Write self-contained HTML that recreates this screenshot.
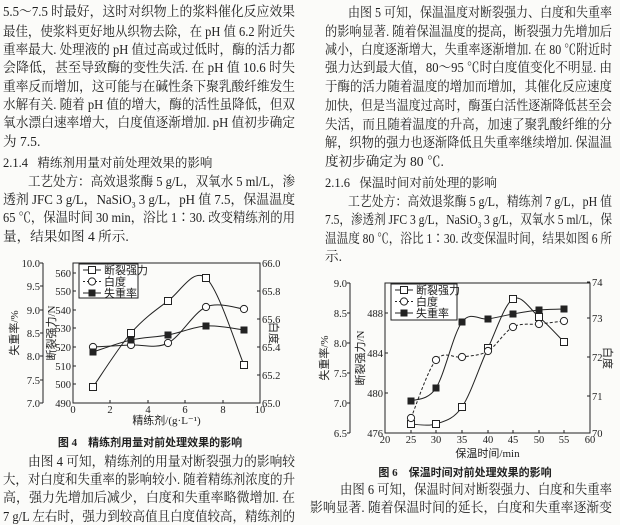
<!DOCTYPE html>
<html><head><meta charset="utf-8"><style>
html,body{margin:0;padding:0;background:#fbfbf9;}
body{width:620px;height:521px;position:relative;overflow:hidden;font-family:"Liberation Serif","Noto Serif CJK SC",serif;color:#1e1e1e;}
.l{position:absolute;font-size:13.6px;line-height:16px;white-space:nowrap;display:inline-block;transform-origin:0 0;}
svg{position:absolute;left:0;top:0;}
svg text{font-family:"Liberation Serif","Noto Sans CJK SC",sans-serif;fill:#222;}
</style></head><body>
<div class="l" data-w="292" style="left:3px;top:4px">5.5～7.5 时最好，这时对织物上的浆料催化反应效果</div>
<div class="l" data-w="292" style="left:3px;top:24px">最佳，使浆料更好地从织物去除，在 pH 值 6.2 附近失</div>
<div class="l" data-w="292" style="left:3px;top:42px">重率最大. 处理液的 pH 值过高或过低时，酶的活力都</div>
<div class="l" data-w="292" style="left:3px;top:60px">会降低，甚至导致酶的变性失活. 在 pH 值 10.6 时失</div>
<div class="l" data-w="292" style="left:3px;top:79px">重率反而增加，这可能与在碱性条下聚乳酸纤维发生</div>
<div class="l" data-w="292" style="left:3px;top:97px">水解有关. 随着 pH 值的增大，酶的活性虽降低，但双</div>
<div class="l" data-w="292" style="left:3px;top:115px">氧水漂白速率增大，白度值逐渐增加. pH 值初步确定</div>
<div class="l" style="left:3px;top:134px">为 7.5.</div>
<div class="l" style="left:3px;top:155px;font-size:12.5px">2.1.4&nbsp;&nbsp;&nbsp;精练剂用量对前处理效果的影响</div>
<div class="l" data-w="267" style="left:28px;top:174px">工艺处方：高效退浆酶 5 g/L，双氧水 5 ml/L，渗</div>
<div class="l" data-w="292" style="left:3px;top:192px">透剂 JFC 3 g/L，NaSiO<sub style="font-size:8px">3</sub> 3 g/L，pH 值 7.5，保温温度</div>
<div class="l" data-w="292" style="left:3px;top:210px">65 ℃，保温时间 30 min，浴比 1∶30. 改变精练剂的用</div>
<div class="l" style="left:3px;top:229px">量，结果如图 4 所示.</div>

<div class="l" data-w="264" style="left:348px;top:5px">由图 5 可知，保温温度对断裂强力、白度和失重率</div>
<div class="l" data-w="287" style="left:325px;top:24px">的影响显著. 随着保温温度的提高，断裂强力先增加后</div>
<div class="l" data-w="287" style="left:325px;top:42px">减小，白度逐渐增大，失重率逐渐增加. 在 80 ℃附近时</div>
<div class="l" data-w="287" style="left:325px;top:60px">强力达到最大值，80～95 ℃时白度值变化不明显. 由</div>
<div class="l" data-w="287" style="left:325px;top:79px">于酶的活力随着温度的增加而增加，其催化反应速度</div>
<div class="l" data-w="287" style="left:325px;top:98px">加快，但是当温度过高时，酶蛋白活性逐渐降低甚至会</div>
<div class="l" data-w="287" style="left:325px;top:117px">失活，而且随着温度的升高，加速了聚乳酸纤维的分</div>
<div class="l" data-w="287" style="left:325px;top:135px">解，织物的强力也逐渐降低且失重率继续增加. 保温温</div>
<div class="l" style="left:325px;top:154px">度初步确定为 80 ℃.</div>
<div class="l" style="left:325px;top:175px;font-size:12.5px">2.1.6&nbsp;&nbsp;&nbsp;保温时间对前处理的影响</div>
<div class="l" data-w="264" style="left:348px;top:194px">工艺处方：高效退浆酶 5 g/L，精练剂 7 g/L，pH 值</div>
<div class="l" data-w="287" style="left:325px;top:212px">7.5，渗透剂 JFC 3 g/L，NaSiO<sub style="font-size:8px">3</sub> 3 g/L，双氧水 5 ml/L，保</div>
<div class="l" data-w="287" style="left:325px;top:231px">温温度 80 ℃，浴比 1∶30. 改变保温时间，结果如图 6 所</div>
<div class="l" style="left:325px;top:249px">示.</div>

<div class="l" data-w="267" style="left:28px;top:454px">由图 4 可知，精练剂的用量对断裂强力的影响较</div>
<div class="l" data-w="292" style="left:3px;top:472px">大，对白度和失重率的影响较小. 随着精练剂浓度的升</div>
<div class="l" data-w="292" style="left:3px;top:490px">高，强力先增加后减少，白度和失重率略微增加. 在</div>
<div class="l" data-w="292" style="left:3px;top:509px">7 g/L 左右时，强力到较高值且白度值较高，精练剂的</div>

<div class="l" data-w="272" style="left:340px;top:482px">由图 6 可知，保温时间对断裂强力、白度和失重率</div>
<div class="l" data-w="302" style="left:310px;top:500px">影响显著. 随着保温时间的延长，白度和失重率逐渐变</div>

<svg id="s" width="620" height="521" viewBox="0 0 620 521"></svg>
<script>
document.querySelectorAll('.l[data-w]').forEach(e=>{const t=+e.dataset.w;const w=e.getBoundingClientRect().width;
 if(w>t){e.style.transform='scaleX('+(t/w)+')';}
 else{e.style.width=t+'px';e.style.textAlign='justify';e.style.textAlignLast='justify';}});
const s=document.getElementById('s');let h='';
function cr(p){let d='M'+p[0][0]+','+p[0][1];for(let i=0;i<p.length-1;i++){const a=p[i-1]||p[i],b=p[i],c=p[i+1],e=p[i+2]||c;
d+=' C'+(b[0]+(c[0]-a[0])/6)+','+(b[1]+(c[1]-a[1])/6)+' '+(c[0]-(e[0]-b[0])/6)+','+(c[1]-(e[1]-b[1])/6)+' '+c[0]+','+c[1];}return d;}
function T(x,y,t,sz,anc,extra){h+=`<text x="${x}" y="${y}" font-size="${sz}" text-anchor="${anc||'start'}" ${extra||''}>${t}</text>`;}
function L(x1,y1,x2,y2){h+=`<line x1="${x1}" y1="${y1}" x2="${x2}" y2="${y2}" stroke="#222" stroke-width="1"/>`;}
function mk(x,y,t){if(t==0)h+=`<rect x="${x-3.5}" y="${y-3.5}" width="7" height="7" fill="#fff" stroke="#222"/>`;
else if(t==1)h+=`<circle cx="${x}" cy="${y}" r="3.6" fill="#fff" stroke="#222"/>`;
else h+=`<rect x="${x-3.5}" y="${y-3.5}" width="7" height="7" fill="#222"/>`;}
function chart(c){
 h+=`<rect x="${c.bx}" y="${c.by}" width="${c.bw}" height="${c.bh}" fill="none" stroke="#222"/>`;
 L(c.ox,c.oy1,c.ox,c.oy2);
 c.lt.forEach(([v,y])=>{L(c.ox-3,y,c.ox,y);T(c.ox-3,y+4,v,10.5,'end');});
 c.mt.forEach(([v,y])=>{L(c.bx,y,c.bx+3,y);T(c.bx-2,y+4,v,10.5,'end');});
 c.rt.forEach(([v,y])=>{L(c.bx+c.bw-3,y,c.bx+c.bw,y);T(c.bx+c.bw+2,y+4,v,10.5);});
 c.xt.forEach(([v,x])=>{L(x,c.by+c.bh,x,c.by+c.bh-3);T(x,c.by+c.bh+10,v,10.5,'middle');});
 T(c.lx,c.lcy,c.ll,11,'middle',`transform="rotate(-90 ${c.lx} ${c.lcy})"`);
 T(c.mx,c.lcy,c.ml,11,'middle',`transform="rotate(-90 ${c.mx} ${c.lcy})"`);
 T(c.rx,c.lcy,c.rl,11,'middle',`transform="rotate(90 ${c.rx} ${c.lcy})"`);
 T(c.bx+c.bw/2,c.xty,c.xl,11,'middle');
 c.ser.forEach((sr,i)=>{h+=`<path d="${cr(sr.p)}" fill="none" stroke="#222" stroke-width="1" ${sr.dash?'stroke-dasharray="3,2"':''}/>`;sr.p.forEach(p=>mk(p[0],p[1],i));});
 const g=c.lg;h+=`<rect x="${g[0]}" y="${g[1]}" width="${g[2]}" height="${g[3]}" fill="#fff" stroke="#222"/>`;
 ['断裂强力','白度','失重率'].forEach((t,i)=>{const y=g[1]+6+i*11.5;h+=`<line x1="${g[0]+4}" y1="${y}" x2="${g[0]+22}" y2="${y}" stroke="#222" ${i==1?'stroke-dasharray="2,2"':''}/>`;mk(g[0]+13,y,i);T(g[0]+25,y+4,t,11);});
 T(c.capx,c.capy,c.cap,11,'middle','font-weight="bold"');
}
chart({bx:73,by:263,bw:187,bh:140,ox:43,oy1:263,oy2:403,lx:18,mx:55,
 lt:[['10.0',263],['9.5',286],['9.0',310],['8.5',333],['8.0',356],['7.5',380],['7.0',403]],
 mt:[['560',273],['550',291],['540',310],['530',328],['520',347],['510',366],['500',384],['490',403]],
 rt:[['66.0',263],['65.8',291],['65.6',319],['65.4',347],['65.2',375],['65.0',403]],
 xt:[['0',73],['2',110],['4',148],['6',185],['8',223],['10',260]],
 ll:'失重率/%',ml:'断裂强力/N',rl:'白度',rx:270,lcy:333,xl:'精练剂/(g·L⁻¹)',xty:424,
 ser:[{p:[[93,387],[131,333],[168,301],[206,278],[244,365]]},{p:[[93,347],[131,345],[168,343],[206,307],[244,309]],dash:0},{p:[[93,352],[131,340],[168,335],[206,326],[244,330]]}],
 lg:[79,264,59,34],cap:'图 4　精练剂用量对前处理效果的影响',capx:150,capy:446});
chart({bx:385,by:283,bw:205,bh:150,ox:350,oy1:283,oy2:433,lx:328,mx:364,
 lt:[['9.0',283],['8.5',313],['8.0',343],['7.5',373],['7.0',403],['6.5',433]],
 mt:[['488',313],['484',353],['480',393],['476',433]],
 rt:[['74',282],['73',318],['72',357],['71',396],['70',433]],
 xt:[['20',385],['25',411],['30',436],['35',462],['40',488],['45',513],['50',539],['55',564],['60',590]],
 ll:'失重率/%',ml:'断裂强力/N',rl:'白度',rx:604,lcy:358,xl:'保温时间/min',xty:457,
 ser:[{p:[[411,424],[436,424],[462,407],[488,348],[513,299],[539,317],[564,342]]},{p:[[411,418],[436,360],[462,357],[488,351],[513,327],[539,324],[564,321]],dash:1},{p:[[411,401],[436,388],[462,322],[488,319],[513,314],[539,310],[564,309]]}],
 lg:[391,284,66,36],cap:'图 6　保温时间对前处理效果的影响',capx:465,capy:476});
s.innerHTML=h;
</script>
</body></html>
